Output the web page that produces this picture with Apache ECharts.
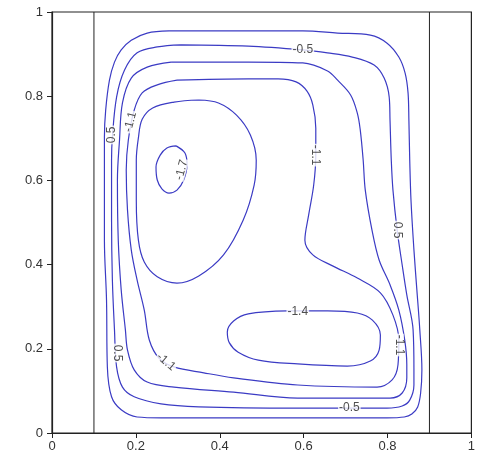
<!DOCTYPE html>
<html>
<head>
<meta charset="utf-8">
<script src="https://cdn.jsdelivr.net/npm/echarts@6/dist/echarts.min.js"></script>
<style>
  html, body { margin: 0; padding: 0; background: #fff; }
  #chart { width: 478px; height: 463px; }
</style>
</head>
<body>
<div id="chart"></div>
<script>
// Axis ticks
const xTicks = [0, 0.2, 0.4, 0.6, 0.8, 1];
const yTicks = [0, 0.2, 0.4, 0.6, 0.8, 1];

// Cavity walls (x positions)
const wallX = [0.1, 0.9];

// Stream-function contour lines, [x, y] points along each closed curve
const psiM02 = [[0.279,0.955],[0.468,0.955],[0.598,0.955],[0.681,0.950],[0.759,0.945],[0.799,0.926],[0.827,0.893],[0.842,0.855],[0.849,0.808],[0.851,0.743],[0.853,0.648],[0.856,0.553],[0.863,0.435],[0.870,0.340],[0.877,0.245],[0.882,0.150],[0.879,0.095],[0.872,0.062],[0.858,0.045],[0.840,0.038],[0.799,0.036],[0.586,0.036],[0.350,0.036],[0.260,0.036],[0.203,0.038],[0.165,0.055],[0.142,0.086],[0.132,0.157],[0.130,0.316],[0.125,0.458],[0.125,0.601],[0.125,0.703],[0.128,0.767],[0.137,0.838],[0.149,0.881],[0.165,0.910],[0.189,0.933],[0.227,0.950],[0.279,0.955]];

const psiM05 = [[0.307,0.922],[0.468,0.919],[0.598,0.910],[0.657,0.903],[0.716,0.893],[0.768,0.874],[0.792,0.843],[0.804,0.798],[0.806,0.743],[0.809,0.648],[0.813,0.577],[0.823,0.482],[0.835,0.399],[0.846,0.328],[0.861,0.245],[0.863,0.150],[0.863,0.114],[0.853,0.078],[0.835,0.064],[0.799,0.059],[0.586,0.059],[0.350,0.062],[0.260,0.069],[0.196,0.086],[0.168,0.109],[0.154,0.157],[0.149,0.245],[0.144,0.363],[0.142,0.506],[0.142,0.648],[0.144,0.703],[0.154,0.798],[0.173,0.862],[0.203,0.903],[0.251,0.917],[0.307,0.922]];

const psiM08 = [[0.284,0.881],[0.468,0.881],[0.598,0.879],[0.657,0.860],[0.681,0.838],[0.712,0.803],[0.728,0.760],[0.735,0.720],[0.742,0.648],[0.747,0.577],[0.763,0.482],[0.780,0.411],[0.806,0.352],[0.827,0.292],[0.841,0.221],[0.846,0.163],[0.846,0.131],[0.835,0.095],[0.806,0.083],[0.586,0.083],[0.433,0.097],[0.291,0.109],[0.227,0.121],[0.196,0.150],[0.180,0.197],[0.175,0.245],[0.165,0.340],[0.158,0.458],[0.156,0.601],[0.161,0.696],[0.168,0.784],[0.189,0.843],[0.227,0.869],[0.284,0.881]];

const psiM11 = [[0.298,0.838],[0.468,0.841],[0.539,0.841],[0.582,0.834],[0.608,0.812],[0.622,0.779],[0.629,0.724],[0.629,0.660],[0.624,0.589],[0.612,0.518],[0.603,0.458],[0.622,0.423],[0.669,0.397],[0.728,0.368],[0.783,0.333],[0.813,0.280],[0.827,0.221],[0.825,0.162],[0.811,0.126],[0.775,0.109],[0.586,0.114],[0.433,0.131],[0.362,0.143],[0.291,0.157],[0.255,0.178],[0.232,0.221],[0.220,0.292],[0.203,0.363],[0.189,0.435],[0.180,0.530],[0.177,0.625],[0.182,0.696],[0.196,0.767],[0.215,0.808],[0.251,0.827],[0.298,0.838]];

const psiM14a = [[0.350,0.791],[0.397,0.784],[0.440,0.755],[0.473,0.708],[0.487,0.648],[0.482,0.589],[0.456,0.506],[0.409,0.423],[0.350,0.373],[0.298,0.356],[0.251,0.371],[0.220,0.406],[0.206,0.458],[0.201,0.553],[0.201,0.648],[0.206,0.701],[0.215,0.745],[0.240,0.772],[0.291,0.786],[0.350,0.791]];

const psiM14b = [[0.563,0.290],[0.657,0.290],[0.728,0.285],[0.764,0.268],[0.783,0.233],[0.780,0.197],[0.759,0.171],[0.704,0.159],[0.586,0.164],[0.492,0.173],[0.444,0.192],[0.423,0.214],[0.418,0.240],[0.433,0.266],[0.468,0.283],[0.563,0.290]];

const psiM17 = [[0.296,0.682],[0.274,0.677],[0.258,0.660],[0.248,0.632],[0.251,0.601],[0.262,0.580],[0.279,0.570],[0.298,0.577],[0.314,0.601],[0.322,0.637],[0.317,0.665],[0.296,0.682]];

// Inline contour labels
const labelText  = ['-0.5', '0.5', '-1.1', '-1.7', '-1.1', '0.5', '-1.1', '-1.4', '-0.5', '-1.1', '0.5'];
const labelPos   = [[0.598,0.910],[0.142,0.708],[0.187,0.739],[0.309,0.625],[0.629,0.660],[0.824,0.482],[0.827,0.209],[0.586,0.288],[0.709,0.059],[0.272,0.169],[0.155,0.190]];
const labelAngle = [0, 90, 75, 75, -90, -90, -90, 0, 0, -40, -90];

const lineColor = '#3b3bc4';
const contours = [psiM02, psiM05, psiM08, psiM11, psiM14a, psiM14b, psiM17];

const series = [];
wallX.forEach(function (x) {
  series.push({
    type: 'line', data: [[x, 0], [x, 1]], symbol: 'none', silent: true,
    lineStyle: { color: '#222', width: 1 }, z: 2
  });
});
contours.forEach(function (c) {
  series.push({
    type: 'line', data: c, symbol: 'none', smooth: 0.35, silent: true,
    lineStyle: { color: lineColor, width: 1.2 }, z: 3
  });
});
series.push({
  type: 'scatter', symbolSize: 0, z: 10, silent: true,
  data: labelText.map(function (t, i) {
    return {
      value: labelPos[i], name: t,
      label: { rotate: labelAngle[i] }
    };
  }),
  label: {
    show: true, position: 'inside', formatter: '{b}',
    color: '#222', fontSize: 12, fontFamily: 'Liberation Sans, Arial, sans-serif',
    backgroundColor: '#fff', padding: [0, 1], lineHeight: 10
  }
});

const axisCommon = {
  type: 'value', min: 0, max: 1, interval: 0.2,
  axisLine: { show: true, lineStyle: { color: '#222', width: 1.2 } },
  axisTick: { show: true, inside: false, length: 5, lineStyle: { color: '#222' } },
  splitLine: { show: false },
  axisLabel: { color: '#333', fontSize: 13, fontFamily: 'Liberation Sans, Arial, sans-serif' }
};

const chart = echarts.init(document.getElementById('chart'), null, { renderer: 'canvas' });
chart.setOption({
  animation: false,
  backgroundColor: '#fff',
  grid: { left: 52, right: 3, top: 12, bottom: 30, show: true, borderColor: '#222', borderWidth: 1.2, backgroundColor: 'transparent' },
  xAxis: Object.assign({}, axisCommon, {
    axisLabel: Object.assign({}, axisCommon.axisLabel, { margin: 7,
      formatter: function (v) { return xTicks.indexOf(+v.toFixed(1)) >= 0 ? String(+v.toFixed(1)) : ''; } })
  }),
  yAxis: Object.assign({}, axisCommon, {
    axisLabel: Object.assign({}, axisCommon.axisLabel, { margin: 9,
      formatter: function (v) { return yTicks.indexOf(+v.toFixed(1)) >= 0 ? String(+v.toFixed(1)) : ''; } })
  }),
  series: series
});
</script>
</body>
</html>
